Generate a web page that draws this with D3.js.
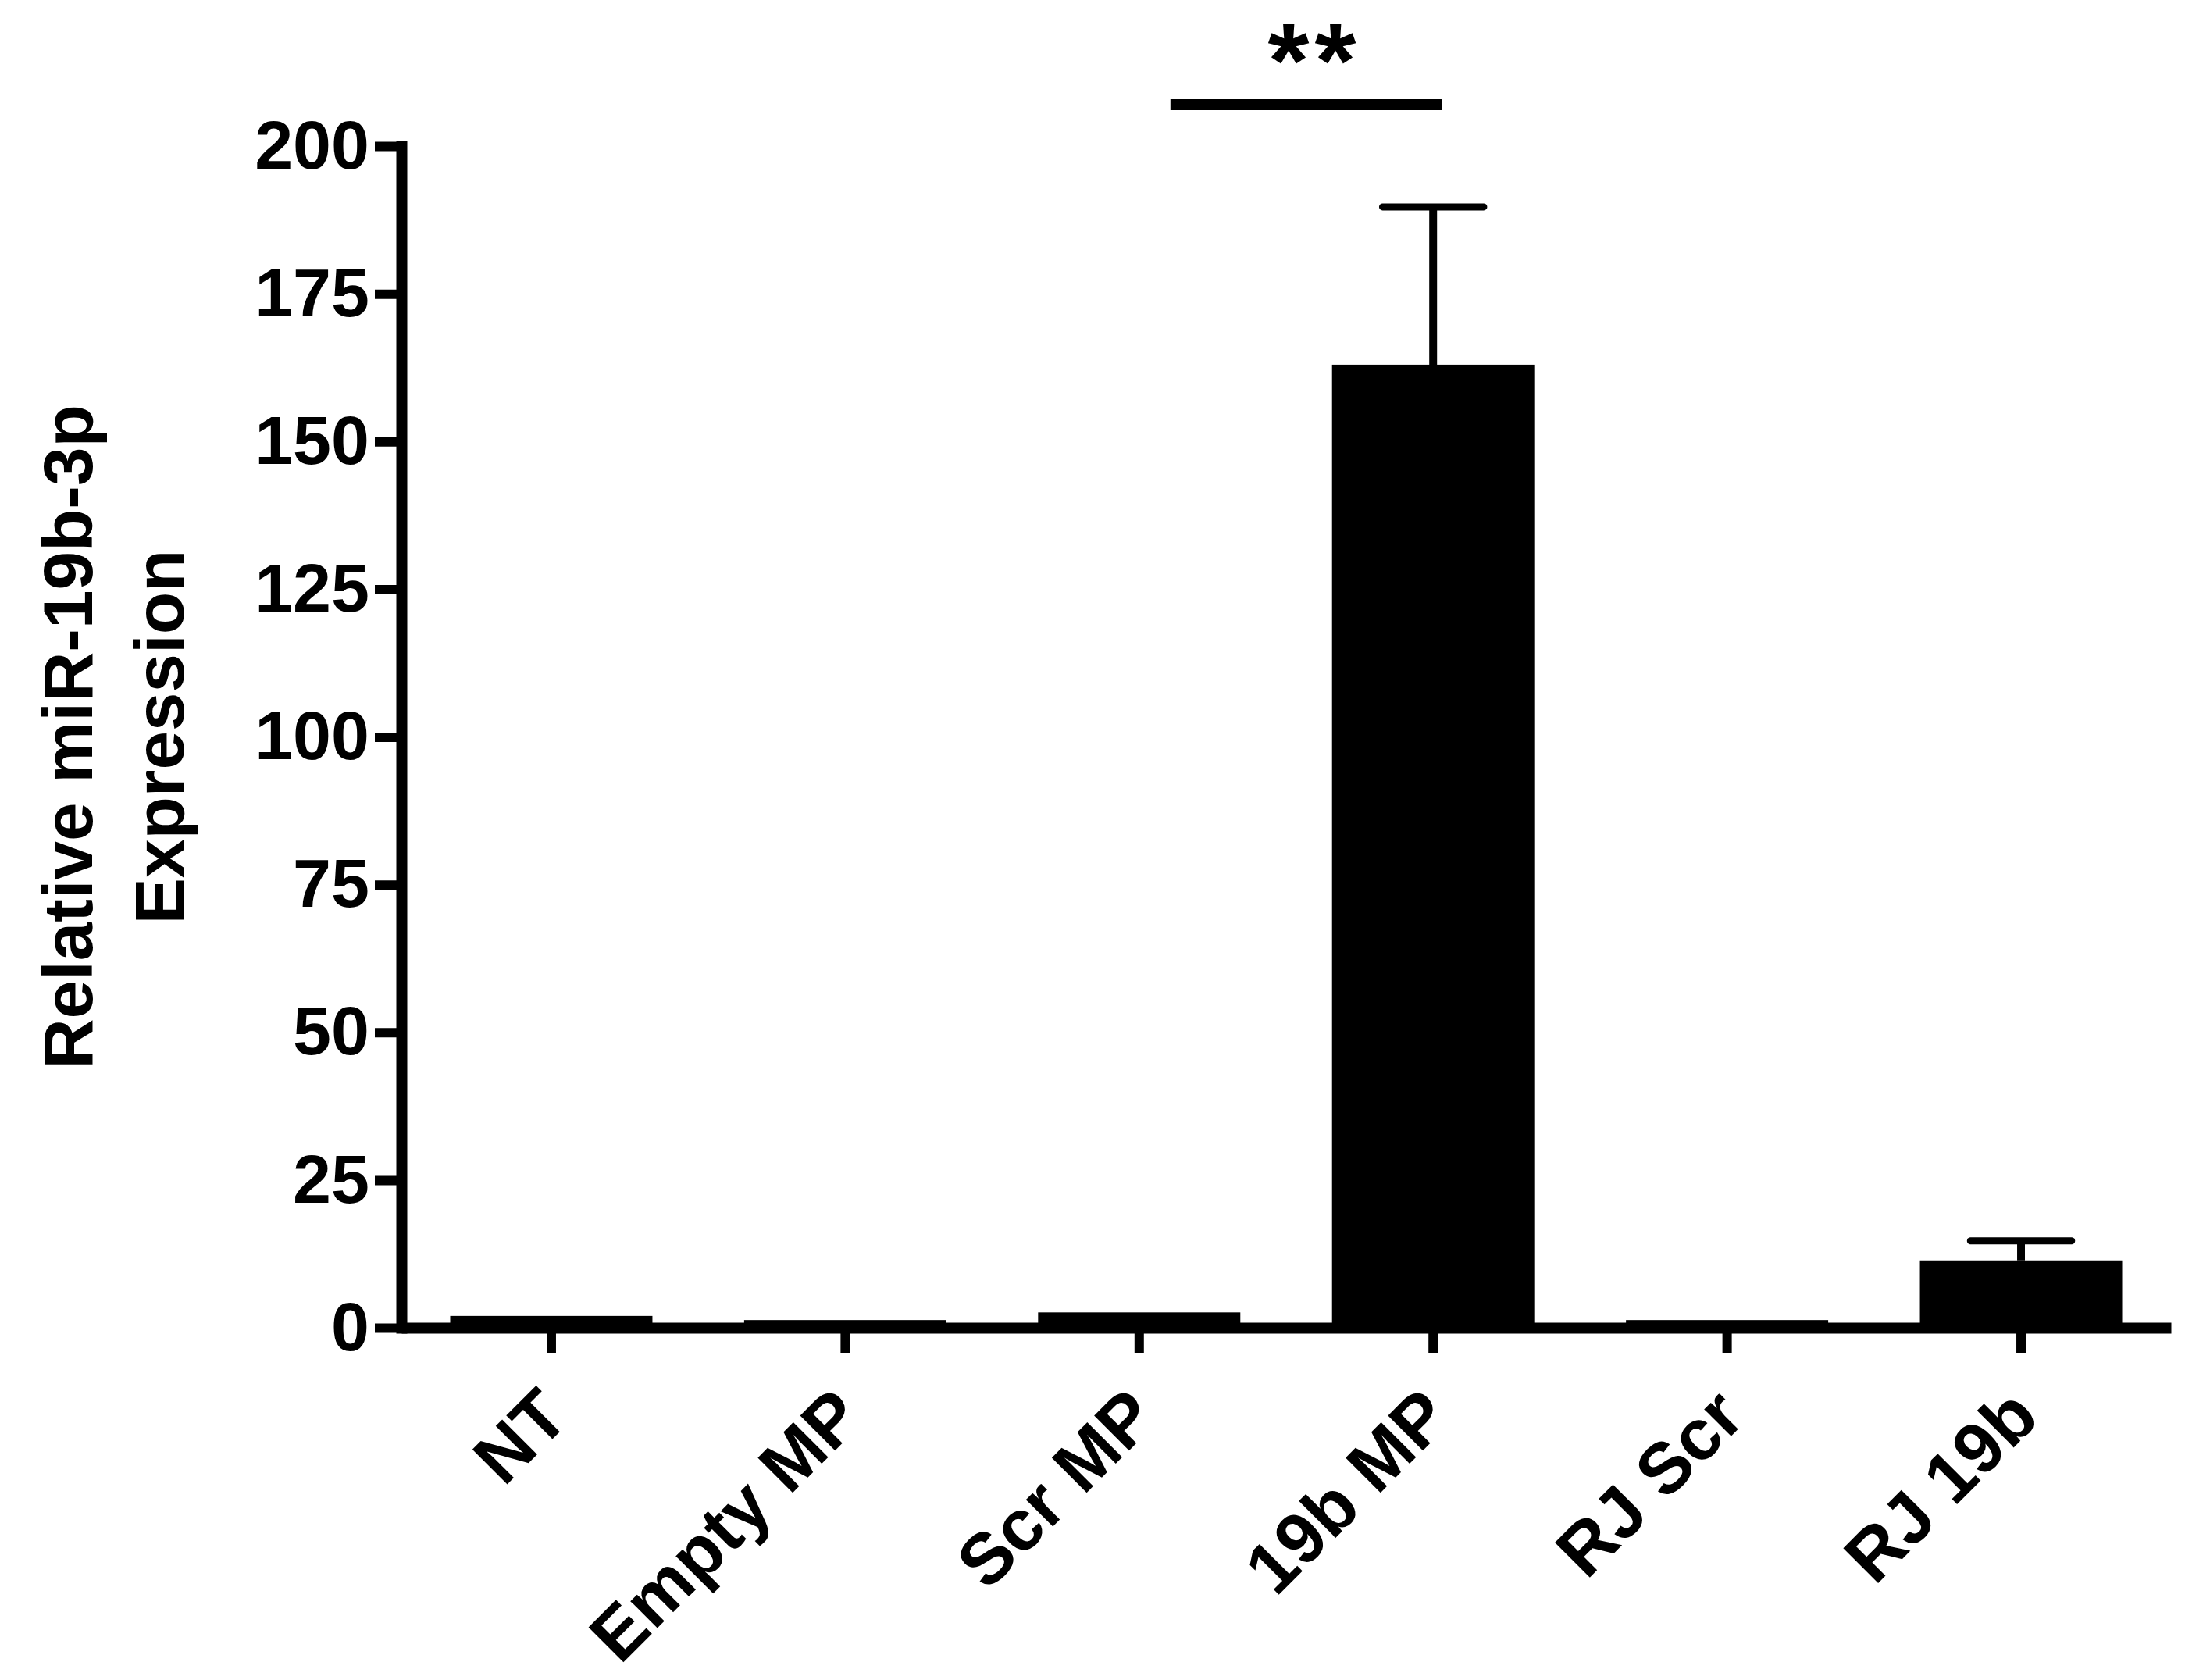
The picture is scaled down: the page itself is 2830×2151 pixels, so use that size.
<!DOCTYPE html>
<html>
<head>
<meta charset="utf-8">
<script src="https://cdn.jsdelivr.net/npm/d3@7"></script>
<style>
  body { margin: 0; background: #fff; }
  text { font-family: "Liberation Sans", Arial, sans-serif; font-weight: bold; fill: #000; }
</style>
</head>
<body>
<div class="chart-div"></div>
<script>

// data
let groups = ["NT", "Empty MP", "Scr MP", "19b MP", "RJ Scr", "RJ 19b"];
let means = [2.0, 1.3, 2.6, 163, 1.3, 11.4];
let sems = [0, 0, 0, 26.7, 0, 3.3];
let yTicks = [0, 25, 50, 75, 100, 125, 150, 175, 200];
let yTitle = ["Relative miR-19b-3p", "Expression"];
let sigPair = ["Scr MP", "19b MP"];
let sigLabel = "**";
let sigLevel = 207;

let width = 2830;
let height = 2151;

let data = groups.map((g, i) => ({name: g, value: means[i], err: sems[i]}));

let svg = d3.select(".chart-div").append("svg")
  .attr("width", width)
  .attr("height", height);

svg.append("rect")
  .attr("width", width)
  .attr("height", height)
  .attr("fill", "#fff");

let x = d3.scaleBand()
  .domain(groups)
  .range([514, 2780])
  .paddingInner(0.312)
  .paddingOuter(0.166);

let y = d3.scaleLinear()
  .domain([0, 200])
  .range([1700, 187]);

let cx = d => x(d) + x.bandwidth() / 2;

// bars
svg.selectAll("rect.bar")
  .data(data)
  .enter()
  .append("rect")
  .attr("class", "bar")
  .attr("x", d => x(d.name))
  .attr("width", x.bandwidth())
  .attr("y", d => y(d.value))
  .attr("height", d => y(0) - y(d.value))
  .attr("fill", "#000");

// error bars, upper half only
let errData = data.filter(d => d.err > 0);

svg.selectAll("line.stem")
  .data(errData)
  .enter()
  .append("line")
  .attr("class", "stem")
  .attr("x1", d => cx(d.name))
  .attr("x2", d => cx(d.name))
  .attr("y1", d => y(d.value))
  .attr("y2", d => y(d.value + d.err))
  .attr("stroke", "#000")
  .attr("stroke-width", 10);

svg.selectAll("line.cap")
  .data(errData)
  .enter()
  .append("line")
  .attr("class", "cap")
  .attr("x1", d => cx(d.name) - x.bandwidth() / 4)
  .attr("x2", d => cx(d.name) + x.bandwidth() / 4)
  .attr("y1", d => y(d.value + d.err))
  .attr("y2", d => y(d.value + d.err))
  .attr("stroke", "#000")
  .attr("stroke-width", 9)
  .attr("stroke-linecap", "round");

// y axis
let yAxis = d3.axisLeft(y)
  .tickValues(yTicks)
  .tickSize(34)
  .tickSizeOuter(0)
  .tickPadding(7);

let yG = svg.append("g")
  .attr("transform", `translate(${x.range()[0]},0)`)
  .call(yAxis);

yG.select(".domain")
  .attr("stroke-width", 14)
  .attr("stroke-linecap", "square");
yG.selectAll(".tick line").attr("stroke-width", 12);
yG.selectAll(".tick text")
  .style("font-size", "88px")
  .attr("fill", "#000");

// x axis
let xAxis = d3.axisBottom(x)
  .tickSize(32)
  .tickSizeOuter(0)
  .tickFormat("");

let xG = svg.append("g")
  .attr("transform", `translate(0,${y(0)})`)
  .call(xAxis);

xG.select(".domain").attr("stroke-width", 14);
xG.selectAll(".tick line").attr("stroke-width", 12);

// slanted category labels
svg.selectAll("text.xlabel")
  .data(groups)
  .enter()
  .append("text")
  .attr("class", "xlabel")
  .attr("transform", d => `translate(${cx(d) + 26},${y(0) + 118}) rotate(-45)`)
  .style("text-anchor", "end")
  .style("font-size", "92px")
  .text(d => d);

// y title, two lines
svg.selectAll("text.ytitle")
  .data(yTitle)
  .enter()
  .append("text")
  .attr("class", "ytitle")
  .attr("transform", (d, i) => `translate(${118 + i * 117},${(y(0) + y(200)) / 2}) rotate(-90)`)
  .style("text-anchor", "middle")
  .style("font-size", "89px")
  .text(d => d);

// significance bar
let sigY = y(sigLevel);
let sigX1 = cx(sigPair[0]) + 40;
let sigX2 = cx(sigPair[1]) + 11;

svg.append("line")
  .attr("x1", sigX1)
  .attr("x2", sigX2)
  .attr("y1", sigY)
  .attr("y2", sigY)
  .attr("stroke", "#000")
  .attr("stroke-width", 14);

// asterisks, kept inside the top edge
svg.append("text")
  .attr("x", (sigX1 + sigX2) / 2 + 11)
  .attr("y", sigY - 10)
  .style("text-anchor", "middle")
  .style("font-size", "136px")
  .style("letter-spacing", "7px")
  .text(sigLabel);

</script>
</body>
</html>
